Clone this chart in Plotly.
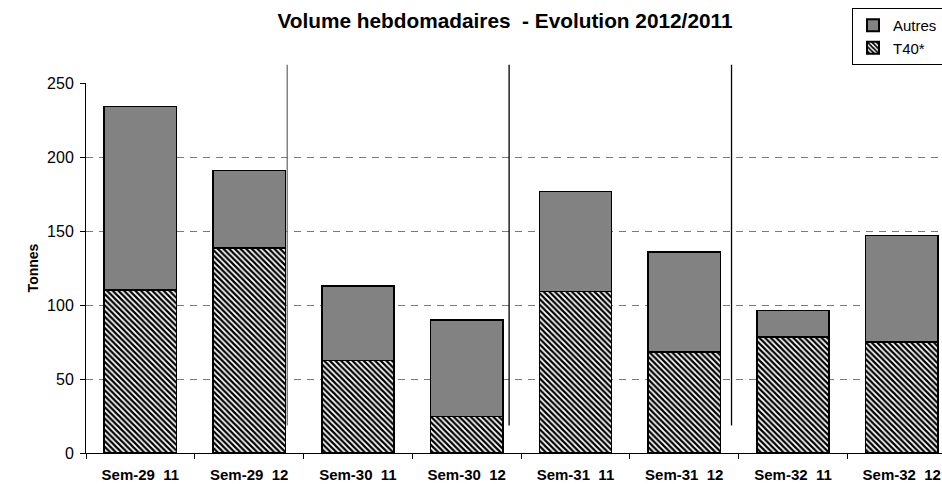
import plotly.graph_objects as go

categories = ["Sem-29\u00a0 11", "Sem-29\u00a0 12", "Sem-30\u00a0 11", "Sem-30\u00a0 12",
              "Sem-31\u00a0 11", "Sem-31\u00a0 12", "Sem-32\u00a0 11", "Sem-32\u00a0 12"]
t40 = [110.0, 138.5, 62.6, 24.7, 109.2, 68.2, 78.4, 75.0]
autres = [124.2, 52.4, 50.4, 65.2, 67.6, 67.6, 18.0, 72.0]
y_ticks = [0, 50, 100, 150, 200, 250]
separators = [1.35, 3.39, 5.435]
sep_colors = ["#707070", "#000000", "#000000"]

FONT = "Liberation Sans, Arial, sans-serif"

fig = go.Figure()
fig.add_trace(go.Bar(
    x=categories, y=t40, name="T40*", width=0.665,
    marker=dict(color="white", line=dict(color="black", width=1.5),
                pattern=dict(shape="\\", size=4, solidity=0.55,
                             fgcolor="black", bgcolor="white", fillmode="replace")),
))
fig.add_trace(go.Bar(
    x=categories, y=autres, name="Autres", width=0.665,
    marker=dict(color="#c8c8c8", line=dict(color="black", width=1.5),
                pattern=dict(shape=".", size=2, solidity=0.5,
                             fgcolor="#101010", bgcolor="#dcdcdc", fillmode="replace")),
))

shapes = []
for xs, c in zip(separators, sep_colors):
    shapes.append(dict(type="line", xref="x", yref="paper", x0=xs, x1=xs,
                       y0=0.074, y1=1.0495, line=dict(color=c, width=1.3)))

fig.update_layout(
    width=942, height=484,
    margin=dict(l=86, r=0, t=83, b=31, autoexpand=False),
    paper_bgcolor="white", plot_bgcolor="white",
    barmode="stack",
    font=dict(family=FONT, color="black"),
    title=dict(text="<b>Volume hebdomadaires  - Evolution 2012/2011</b>",
               x=505 / 942, xanchor="center", y=1 - 21 / 484, yanchor="middle",
               font=dict(size=20.8, family=FONT, color="black")),
    showlegend=True,
    legend=dict(x=(852 - 86) / 856, xanchor="left", y=(453 - 8) / 370, yanchor="top",
                bordercolor="black", borderwidth=1, bgcolor="white",
                font=dict(size=15, family=FONT), traceorder="reversed",
                tracegroupgap=0, itemsizing="constant"),
    shapes=shapes,
    xaxis=dict(type="category", range=[-0.5, 7.37], tickson="boundaries",
               ticks="outside", ticklen=5, tickcolor="black", tickwidth=1,
               showline=True, linecolor="black", linewidth=1, automargin=False,
               showgrid=False, tickfont=dict(size=15, family=FONT), ticklabelstandoff=8,
               tickprefix="<b>", ticksuffix="</b>", fixedrange=True),
    yaxis=dict(range=[0, 250], tickvals=y_ticks, ticks="outside", ticklen=5,
               tickcolor="black", showline=True, linecolor="black", linewidth=1,
               showgrid=True, gridcolor="#7a7a7a", gridwidth=1, griddash="7px,6px",
               zeroline=False, tickfont=dict(size=16, family=FONT), automargin=False,
               ticklabelstandoff=3,
               title=dict(text="<b>Tonnes</b>", font=dict(size=14, family=FONT), standoff=5)),
)

fig.write_html("out.html", config={"displayModeBar": False},
               post_script="document.body.style.margin='0';document.body.style.padding='0';")
